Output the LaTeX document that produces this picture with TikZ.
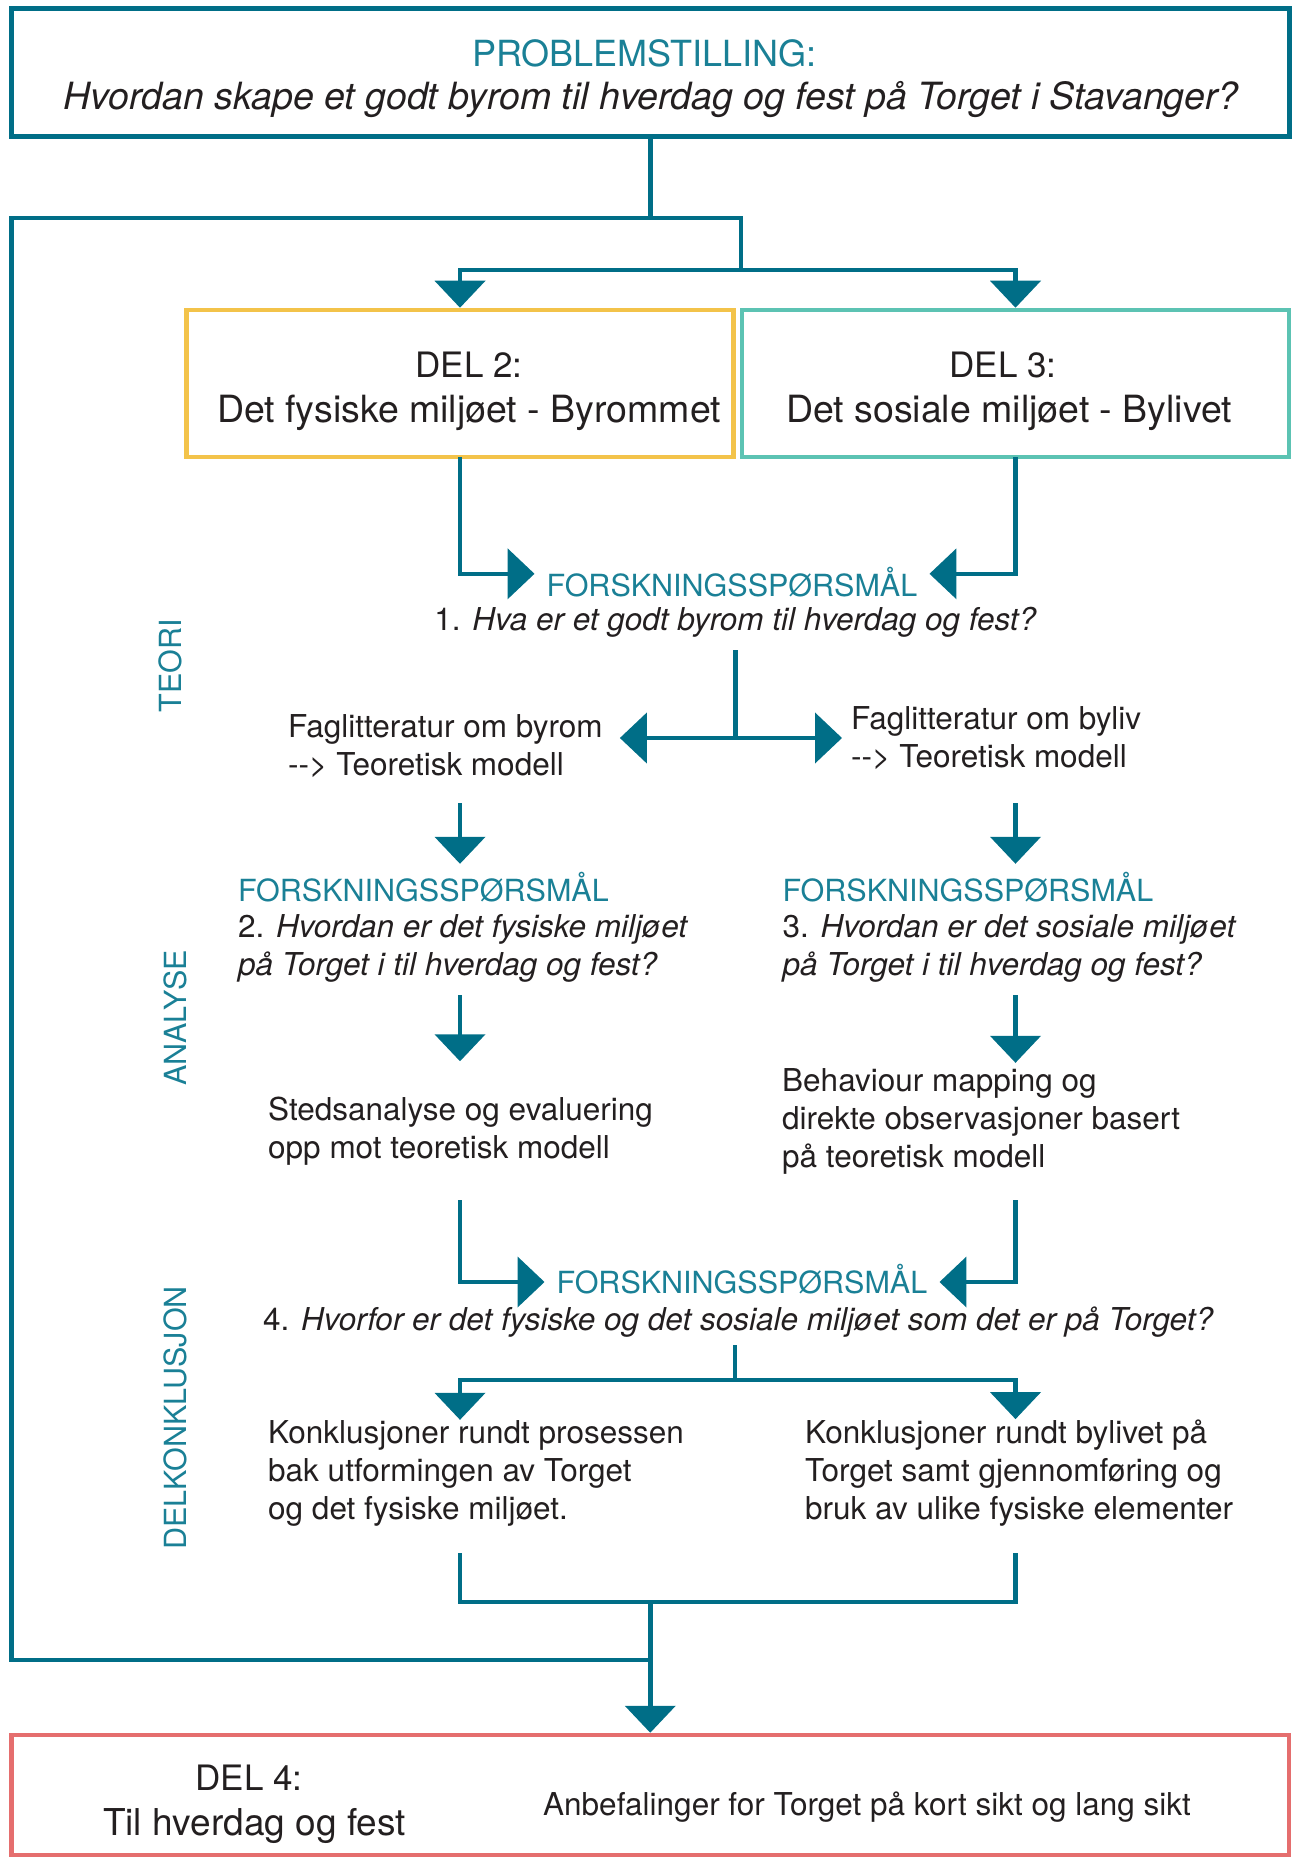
\documentclass[tikz,border=0pt]{standalone}
\usepackage{fontspec}
\setmainfont{TeX Gyre Heros}
\usetikzlibrary{arrows.meta}
\definecolor{petrol}{HTML}{006E87}
\definecolor{petroltext}{HTML}{1A8096}
\definecolor{ink}{HTML}{231F20}
\definecolor{del2col}{HTML}{F3C34A}
\definecolor{del3col}{HTML}{5CC3B3}
\definecolor{del4col}{HTML}{E56E6E}

\begin{document}
\begin{tikzpicture}[x=1pt, y=-1pt,
    frame/.style={shape=rectangle, draw, line width=4.5pt, inner sep=0},
    wire/.style={draw=petrol, line width=4.5pt, line cap=rect},
    feed/.style={wire, -{Triangle[width=50pt, length=27pt]}},
    body/.style={inner sep=0pt, text=ink, align=left, font=\fontsize{31.5}{38}\selectfont},
    fq/.style={inner xsep=12pt, inner ysep=0pt, text height=22pt, text depth=0pt, text=petroltext, font=\fontsize{30.5}{36}\selectfont},
    head/.style={inner sep=0pt, text=petroltext, font=\fontsize{36}{44}\selectfont},
    delhead/.style={inner sep=0pt, text=ink, font=\fontsize{35}{42}\selectfont},
    title/.style={inner sep=0pt, text=ink, font=\fontsize{37}{45}\selectfont},
    side/.style={inner sep=0pt, rotate=90, text=petroltext, font=\fontsize{30.5}{36}\selectfont}]
        \useasboundingbox (0,0) rectangle (1292,1859);
        % Boxes:
        \node[frame, draw=petrol, line width=5pt, minimum width=1277.5pt, minimum height=128.7pt] (problem) at (650.25, 72.65) {};
        \node[head, anchor=base] (problemhead) at (644.5, 66.7) {PROBLEMSTILLING:};
        \node[title, font=\fontsize{37.5}{45}\selectfont, anchor=base] (problemtext) at (651, 110) {\itshape Hvordan skape et godt byrom til hverdag og fest på Torget i Stavanger?};
        \node[frame, draw=del2col, minimum width=547pt, minimum height=147pt] (del2) at (460, 383.5) {};
        \node[delhead, anchor=base] (del2head) at (469, 377) {DEL 2:};
        \node[title, font=\fontsize{37.5}{45}\selectfont, anchor=base] (del2text) at (469, 422) {Det fysiske miljøet - Byrommet};
        \node[frame, draw=del3col, minimum width=547pt, minimum height=147pt] (del3) at (1015.5, 383.5) {};
        \node[delhead, anchor=base] (del3head) at (1003, 377) {DEL 3:};
        \node[title, font=\fontsize{37.5}{45}\selectfont, anchor=base] (del3text) at (1009, 422) {Det sosiale miljøet - Bylivet};
        \node[frame, draw=del4col, minimum width=1277.5pt, minimum height=120pt] (del4) at (650.25, 1795) {};
        \node[delhead, anchor=base] (del4head) at (249, 1790) {DEL 4:};
        \node[title, anchor=base] (del4text) at (254.5, 1835) {Til hverdag og fest};
        \node[body, anchor=base west] (advice) at (543, 1815) {Anbefalinger for Torget på kort sikt og lang sikt};
        % Side labels:
        \node[side] (teori) at (170, 666) {TEORI};
        \node[side] (analyse) at (175, 1018) {ANALYSE};
        \node[side] (delkon) at (175, 1418) {DELKONKLUSJON};
        % Research questions and texts (base = last line):
        \node[fq, anchor=base] (fq1) at (732, 596) {FORSKNINGSSPØRSMÅL};
        \node[body, anchor=base] (q1) at (735.5, 630) {1. \textit{Hva er et godt byrom til hverdag og fest?}};
        \node[body, anchor=base west] (lit2) at (288, 775) {Faglitteratur om byrom\\-\kern0pt-\kern0pt> Teoretisk modell};
        \node[body, anchor=base west] (lit3) at (851, 767) {Faglitteratur om byliv\\-\kern0pt-\kern0pt> Teoretisk modell};
        \node[fq, inner xsep=0pt, anchor=base west] (fq2) at (238, 901) {FORSKNINGSSPØRSMÅL};
        \node[body, anchor=base west] (q2) at (238, 975) {2. \textit{Hvordan er det fysiske miljøet}\\\textit{på Torget i til hverdag og fest?}};
        \node[fq, inner xsep=0pt, anchor=base west] (fq3) at (782.5, 901) {FORSKNINGSSPØRSMÅL};
        \node[body, anchor=base west] (q3) at (782.5, 975) {3. \textit{Hvordan er det sosiale miljøet}\\\textit{på Torget i til hverdag og fest?}};
        \node[body, anchor=base west] (sted) at (268, 1158) {Stedsanalyse og evaluering\\opp mot teoretisk modell};
        \node[body, anchor=base west] (behav) at (782, 1167) {Behaviour mapping og\\direkte observasjoner basert\\på teoretisk modell};
        \node[fq, anchor=base] (fq4) at (742, 1293) {FORSKNINGSSPØRSMÅL};
        \node[body, anchor=base west] (q4) at (263, 1330) {4. \textit{Hvorfor er det fysiske og det sosiale miljøet som det er på Torget?}};
        \node[body, anchor=base west] (konk2) at (268, 1519) {Konklusjoner rundt prosessen\\bak utformingen av Torget\\og det fysiske miljøet.};
        \node[body, anchor=base west] (konk3) at (805, 1519) {Konklusjoner rundt bylivet på\\Torget samt gjennomføring og\\bruk av ulike fysiske elementer};
        % Junctions:
        \coordinate (loopL) at (11.5, 218);
        \coordinate (merge) at (650.25, 1660);
        \coordinate (fork) at (741, 270);
        \coordinate (split1) at (735.5, 738);
        \coordinate (split4) at (735, 1380);
        \coordinate (bracket) at (650.25, 1602);
        % Wires:
        \draw[wire] (problem.south) |- (loopL) |- (merge);
        \draw[wire] (problem.south |- loopL) -| (fork);
        \draw[feed] (fork) -| (del2.north);
        \draw[feed] (fork) -| (del3.north);
        \draw[feed] (del2.south) |- (fq1.north west);
        \draw[feed] (del3.south) |- (fq1.north east);
        \draw[wire, shorten <=15pt] (q1.south) -- (split1);
        \draw[feed, shorten >=17pt] (split1) -- (split1 -| lit2.east);
        \draw[feed, shorten >=9pt] (split1) -- (split1 -| lit3.west);
        \draw[feed, shorten <=28pt, shorten >=15pt] (del2.south |- lit2.south) -- (del2.south |- fq2.north);
        \draw[feed, shorten <=36pt, shorten >=15pt] (del3.south |- lit3.south) -- (del3.south |- fq3.north);
        \draw[feed, shorten <=15pt, shorten >=35pt] (del2.south |- q2.south) -- (del2.south |- sted.north);
        \draw[feed, shorten <=15pt, shorten >=5pt] (del3.south |- q3.south) -- (del3.south |- behav.north);
        \draw[feed, shorten <=37pt] (del2.south |- sted.south) |- (fq4.west);
        \draw[feed, shorten <=28pt] (del3.south |- behav.south) |- (fq4.east);
        \draw[wire, shorten <=10pt] (split4 |- q4.south) -- (split4);
        \draw[feed] (split4) -| (del2.south |- konk2.north);
        \draw[feed] (split4) -| (del3.south |- konk3.north);
        \draw[wire, shorten <=29pt, shorten >=29pt] (del2.south |- konk2.south) |- (bracket) -| (del3.south |- konk3.south);
        \draw[feed] (bracket) -- (del4.north);
      \end{tikzpicture}
\end{document}
